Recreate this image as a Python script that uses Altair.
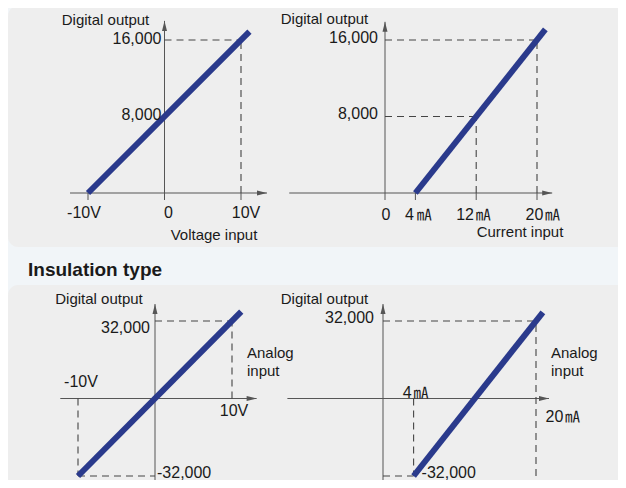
import altair as alt
import pandas as pd

# ---------------- data ----------------
# Panel A: non-insulated, voltage input
A_X_TICKS = [-10, 0, 10]
A_X_LABELS = ["-10V", "0", "10V"]
A_Y_TICKS = [16000, 8000]
A_Y_LABELS = ["16,000", "8,000"]
A_LINE_X = [-10, 11.1]
A_LINE_Y = [0, 16880]
A_GUIDES = [[0, 16000, 10, 16000], [10, 0, 10, 16000]]

# Panel B: non-insulated, current input
B_X_TICKS = [0, 4, 12, 20]
B_X_NUMS = ["0", "4", "12", "20"]
B_X_UNITS = ["", "㎃", "㎃", "㎃"]
B_Y_TICKS = [16000, 8000]
B_Y_LABELS = ["16,000", "8,000"]
B_LINE_X = [4, 21.1]
B_LINE_Y = [0, 17100]
B_GUIDES = [[0, 16000, 20, 16000], [20, 0, 20, 16000],
            [0, 8000, 12, 8000], [12, 0, 12, 8000]]

# Panel C: insulated, voltage input
C_X_TICKS = [-10, 10]
C_X_LABELS = ["-10V", "10V"]
C_Y_TICKS = [32000, -32000]
C_Y_LABELS = ["32,000", "-32,000"]
C_LINE_X = [-10, 11.2]
C_LINE_Y = [-32000, 35840]
C_GUIDES = [[0, 32000, 10, 32000], [10, 0, 10, 32000],
            [-10, 0, -10, -32000], [-10, -32000, 0, -32000]]

# Panel D: insulated, current input
D_X_TICKS = [4, 20]
D_X_NUMS = ["4", "20"]
D_X_UNITS = ["㎃", "㎃"]
D_Y_TICKS = [32000, -32000]
D_Y_LABELS = ["32,000", "-32,000"]
D_LINE_X = [4, 20.9]
D_LINE_Y = [-32000, 35600]
D_GUIDES = [[0, 32000, 20, 32000], [20, -32000, 20, 32000],
            [4, 0, 4, -32000], [0, -32000, 4, -32000]]

Y_TITLE = "Digital output"
SECTION_TITLE = "Insulation type"

# ---------------- style ----------------
PAGE_BG = "#f1f5f8"
BOX_BG = "#eeeeee"
LINE_COLOR = "#2a3a8c"
AXIS_COLOR = "#555555"
GUIDE_COLOR = "#444444"
TEXT_COLOR = "#1a1a1a"
TICK_FONT = "Liberation Sans, Arial, sans-serif"
TICK_SIZE = 16
LABEL_FONT = "Liberation Sans, Arial, sans-serif"
LABEL_SIZE = 15
UNIT_FONT = "Noto Sans CJK JP, sans-serif"
UNIT_SIZE = 15

UP_ARROW = "M0,0L-0.5,2L0.5,2Z"
RIGHT_ARROW = "M0,0L-2,-0.5L-2,0.5Z"


def panel(xdom, xrange, ydom, yrange, xaxis, yaxis, line_x, line_y, guides,
          ticks, texts):
    xs = alt.Scale(domain=xdom, range=xrange, nice=False, zero=False)
    ys = alt.Scale(domain=ydom, range=yrange, nice=False, zero=False)

    def X(f):
        return alt.X(f, type="quantitative", scale=xs, axis=None)

    def Y(f):
        return alt.Y(f, type="quantitative", scale=ys, axis=None)

    layers = []
    # axis lines
    ax = pd.DataFrame({
        "x": [xaxis[0], 0], "x2": [xaxis[1], 0],
        "y": [0, yaxis[0]], "y2": [0, yaxis[1]],
    })
    layers.append(alt.Chart(ax).mark_rule(color=AXIS_COLOR, strokeWidth=1).encode(
        x=X("x"), x2=alt.X2("x2"), y=Y("y"), y2=alt.Y2("y2")))
    # arrows
    layers.append(alt.Chart(pd.DataFrame({"x": [xaxis[1]], "y": [0]})).mark_point(
        shape=RIGHT_ARROW, size=100, filled=True, opacity=1, color=AXIS_COLOR,
        strokeWidth=0).encode(x=X("x"), y=Y("y")))
    layers.append(alt.Chart(pd.DataFrame({"x": [0], "y": [yaxis[1]]})).mark_point(
        shape=UP_ARROW, size=100, filled=True, opacity=1, color=AXIS_COLOR,
        strokeWidth=0).encode(x=X("x"), y=Y("y")))
    # ticks
    if ticks:
        layers.append(alt.Chart(pd.DataFrame({"x": ticks, "y": [0] * len(ticks)}))
                      .mark_tick(orient="vertical", size=7, thickness=1,
                                 color=AXIS_COLOR, yOffset=3.5, opacity=1)
                      .encode(x=X("x"), y=Y("y")))
    # dashed guides
    g = pd.DataFrame(guides, columns=["x", "y", "x2", "y2"])
    layers.append(alt.Chart(g).mark_rule(color=GUIDE_COLOR, strokeWidth=1.1,
                                         strokeDash=[7, 5]).encode(
        x=X("x"), x2=alt.X2("x2"), y=Y("y"), y2=alt.Y2("y2")))
    # transfer line
    ln = pd.DataFrame({"x": line_x, "y": line_y})
    layers.append(alt.Chart(ln).mark_line(color=LINE_COLOR, strokeWidth=6,
                                          strokeCap="butt").encode(
        x=X("x"), y=Y("y")))
    # texts
    for (tx, ty, t, align, dx, dy, role) in texts:
        if role == "tick":
            font, size = TICK_FONT, TICK_SIZE
        elif role == "unit":
            font, size = UNIT_FONT, UNIT_SIZE
        else:
            font, size = LABEL_FONT, LABEL_SIZE
        d = pd.DataFrame({"x": [tx], "y": [ty], "t": [t]})
        layers.append(alt.Chart(d).mark_text(
            align=align, baseline="alphabetic", dx=dx, dy=dy, font=font,
            fontSize=size, color=TEXT_COLOR).encode(
            x=X("x"), y=Y("y"), text="t:N"))
    return alt.layer(*layers)


# ---- panel A ----
a_texts = [(0, 18000, Y_TITLE, "center", -59, 4, "label"),
           (0, A_Y_TICKS[0], A_Y_LABELS[0], "right", -3, 4, "tick"),
           (0, A_Y_TICKS[1], A_Y_LABELS[1], "right", -3, 3, "tick"),
           (A_X_TICKS[0], 0, A_X_LABELS[0], "center", -4, 25, "tick"),
           (A_X_TICKS[1], 0, A_X_LABELS[1], "center", 4, 25, "tick"),
           (A_X_TICKS[2], 0, A_X_LABELS[2], "center", 5, 25, "tick"),
           (10, 0, "Voltage input", "center", -27, 47, "label")]
pA = panel([-10, 10], [80, 233], [0, 16000], [185, 32],
           [-12.35, 13.4], [0, 18000], A_LINE_X, A_LINE_Y, A_GUIDES,
           A_X_TICKS, a_texts)

# ---- panel B ----
b_num_dx = [1, -1.4, -2.2, 6.3]
b_unit_dx = [0, 1.3, -0.5, 8]
b_texts = [(0, 17900, Y_TITLE, "center", -60.5, 2, "label"),
           (0, B_Y_TICKS[0], B_Y_LABELS[0], "right", -7, 3, "tick"),
           (0, B_Y_TICKS[1], B_Y_LABELS[1], "right", -7, 2.5, "tick"),
           (20, 0, "Current input", "center", -17, 44, "label")]
for i, v in enumerate(B_X_TICKS):
    b_texts.append((v, 0, B_X_NUMS[i], "center" if i == 0 else "right",
                    b_num_dx[i], 27, "tick"))
    if B_X_UNITS[i]:
        b_texts.append((v, 0, B_X_UNITS[i], "left", b_unit_dx[i], 27, "unit"))
pB = panel([0, 20], [377, 529], [0, 16000], [185, 32],
           [-12.6, 22.0], [0, 17900], B_LINE_X, B_LINE_Y, B_GUIDES,
           B_X_TICKS, b_texts)

# ---- panel C ----
c_texts = [(0, 39000, Y_TITLE, "center", -56, 0, "label"),
           (0, C_Y_TICKS[0], C_Y_LABELS[0], "right", -5, 12, "tick"),
           (0, C_Y_TICKS[1], C_Y_LABELS[1], "left", 2, 2, "tick"),
           (C_X_TICKS[0], 0, C_X_LABELS[0], "center", 3, -12, "tick"),
           (C_X_TICKS[1], 0, C_X_LABELS[1], "center", 2, 17.5, "tick"),
           (10, 0, "Analog", "left", 15, -40.7, "label"),
           (10, 0, "input", "left", 15, -23, "label")]
pC = panel([-10, 10], [70, 224], [-32000, 32000], [468, 313],
           [-12.3, 13.2], [-40000, 39000], C_LINE_X, C_LINE_Y, C_GUIDES,
           [], c_texts)

# ---- panel D ----
d_texts = [(0, 39000, Y_TITLE, "center", -58.5, 0, "label"),
           (0, D_Y_TICKS[0], D_Y_LABELS[0], "right", -9, 1.7, "tick"),
           (4, D_Y_TICKS[1], D_Y_LABELS[1], "left", 8, 2, "tick"),
           (D_X_TICKS[0], 0, D_X_NUMS[0], "right", -2, -1, "tick"),
           (D_X_TICKS[0], 0, D_X_UNITS[0], "left", 0, -1, "unit"),
           (D_X_TICKS[1], 0, D_X_NUMS[1], "right", 27.3, 23.7, "tick"),
           (D_X_TICKS[1], 0, D_X_UNITS[1], "left", 29, 23.7, "unit"),
           (20, 0, "Analog", "left", 15, -40.7, "label"),
           (20, 0, "input", "left", 15, -23, "label")]
pD = panel([0, 20], [375, 528], [-32000, 32000], [468, 313],
           [-12.5, 21.7], [-40000, 39000], D_LINE_X, D_LINE_Y, D_GUIDES,
           [], d_texts)

# ---- decoration ----
one = pd.DataFrame({"k": [0]})
box_top = alt.Chart(one).mark_rect(color=BOX_BG, cornerRadius=10).encode(
    x=alt.value(0), x2=alt.value(625), y=alt.value(-2), y2=alt.value(239))
box_bot = alt.Chart(one).mark_rect(color=BOX_BG, cornerRadius=10).encode(
    x=alt.value(0), x2=alt.value(625), y=alt.value(277), y2=alt.value(500))
section = alt.Chart(one).mark_text(
    text=SECTION_TITLE, align="left", baseline="alphabetic",
    font=LABEL_FONT, fontSize=19, fontWeight="bold", color=TEXT_COLOR).encode(
    x=alt.value(20), y=alt.value(268))

chart = alt.layer(box_top, box_bot, section, pA, pB, pC, pD).resolve_scale(
    x="independent", y="independent").properties(
    width=610, height=472, autosize="none", padding=0,
    background=PAGE_BG).configure_view(stroke=None)

chart.save("out.html", embed_options={"renderer": "svg", "actions": False})
